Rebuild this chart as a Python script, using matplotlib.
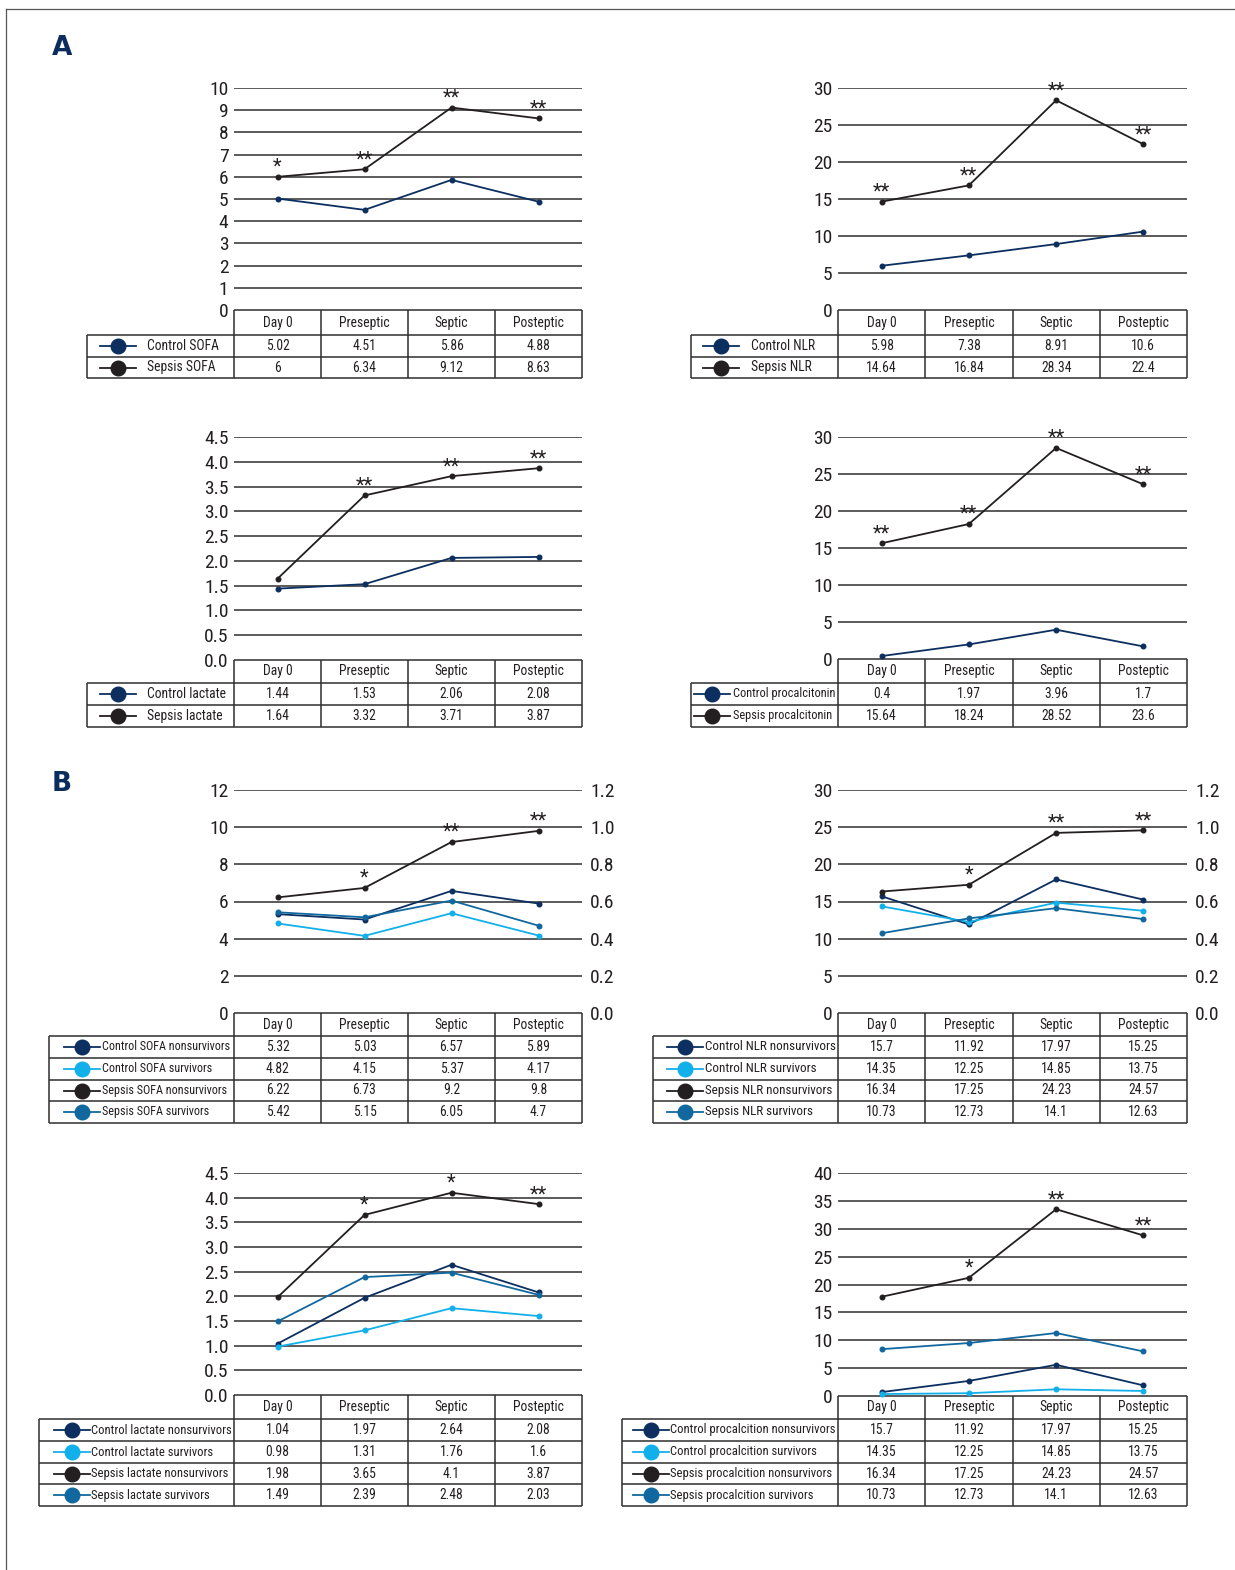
import matplotlib
matplotlib.use("Agg")
import matplotlib.pyplot as plt
from matplotlib import font_manager

# ---------------------------------------------------------------- data
categories = ["Day 0", "Preseptic", "Septic", "Posteptic"]

# Panel A: control vs sepsis
sofa_control = [5.02, 4.51, 5.86, 4.88]
sofa_sepsis = [6, 6.34, 9.12, 8.63]
nlr_control = [5.98, 7.38, 8.91, 10.6]
nlr_sepsis = [14.64, 16.84, 28.34, 22.4]
lactate_control = [1.44, 1.53, 2.06, 2.08]
lactate_sepsis = [1.64, 3.32, 3.71, 3.87]
pct_control = [0.4, 1.97, 3.96, 1.7]
pct_sepsis = [15.64, 18.24, 28.52, 23.6]

# Panel B: survivors vs nonsurvivors
sofa_ctrl_non = [5.32, 5.03, 6.57, 5.89]
sofa_ctrl_surv = [4.82, 4.15, 5.37, 4.17]
sofa_seps_non = [6.22, 6.73, 9.2, 9.8]
sofa_seps_surv = [5.42, 5.15, 6.05, 4.7]

nlr_ctrl_non = [15.7, 11.92, 17.97, 15.25]
nlr_ctrl_surv = [14.35, 12.25, 14.85, 13.75]
nlr_seps_non = [16.34, 17.25, 24.23, 24.57]
nlr_seps_surv = [10.73, 12.73, 14.1, 12.63]

lac_ctrl_non = [1.04, 1.97, 2.64, 2.08]
lac_ctrl_surv = [0.98, 1.31, 1.76, 1.6]
lac_seps_non = [1.98, 3.65, 4.1, 3.87]
lac_seps_surv = [1.49, 2.39, 2.48, 2.03]

# procalcitonin curves (the printed table under this chart repeats the NLR figures)
pct_ctrl_non = [0.7, 2.7, 5.6, 1.9]
pct_ctrl_surv = [0.35, 0.5, 1.2, 0.9]
pct_seps_non = [17.8, 21.2, 33.5, 28.8]
pct_seps_surv = [8.4, 9.5, 11.3, 8.0]
pct_table_ctrl_non = [15.7, 11.92, 17.97, 15.25]
pct_table_ctrl_surv = [14.35, 12.25, 14.85, 13.75]
pct_table_seps_non = [16.34, 17.25, 24.23, 24.57]
pct_table_seps_surv = [10.73, 12.73, 14.1, 12.63]

# significance marks above the sepsis (nonsurvivor) curve
stars_sofa_a = ["*", "**", "**", "**"]
stars_nlr_a = ["**", "**", "**", "**"]
stars_lac_a = ["", "**", "**", "**"]
stars_pct_a = ["**", "**", "**", "**"]
stars_sofa_b = ["", "*", "**", "**"]
stars_nlr_b = ["", "*", "**", "**"]
stars_lac_b = ["", "*", "*", "**"]
stars_pct_b = ["", "*", "**", "**"]

# ---------------------------------------------------------------- style
names = {f.name for f in font_manager.fontManager.ttflist}
FONT = "DejaVu Sans"
for cand in ["Liberation Sans Narrow", "Roboto Condensed", "DejaVu Sans Condensed",
             "Open Sans Condensed", "Roboto", "Liberation Sans"]:
    if cand in names:
        FONT = cand
        break
plt.rcParams["font.family"] = [FONT, "DejaVu Sans"]

NAVY = "#0c2f60"
LIGHT = "#12b0ea"
DARK = "#231f20"
MID = "#11689f"
INK = "#231f20"
RULE = "#2e2e2e"
TABLE_FS = 9.8
TICK_FS = 14

W, H = 1235, 1570
fig = plt.figure(figsize=(W / 100, H / 100), dpi=100)
canvas = fig.add_axes([0, 0, 1, 1])
canvas.set_xlim(0, W)
canvas.set_ylim(H, 0)
canvas.axis("off")
renderer = fig.canvas.get_renderer()

# outer frame (top and left edges)
canvas.plot([6, W], [9, 9], color="#555555", lw=0.9)
canvas.plot([6, 6], [9, H], color="#555555", lw=0.9)
canvas.text(62, 48, "A", color="#0b2d5e", fontsize=19, fontweight="bold",
            ha="center", va="center", family=["DejaVu Sans"])
canvas.text(62, 784, "B", color="#0b2d5e", fontsize=19, fontweight="bold",
            ha="center", va="center", family=["DejaVu Sans"])


def fit_labels(texts, max_px):
    """Shrink a group of labels together until the widest fits in max_px."""
    widest = max(t.get_window_extent(renderer).width for t in texts)
    if widest > max_px:
        size = TABLE_FS * max_px / widest
        for t in texts:
            t.set_fontsize(size)


def panel(lab_left, x0, x1, y_top, y_zero, ymax, ystep, yfmt, header_bottom,
          row_bottoms, series, colors, labels, table_rows, stars, mark_dx, text_dx,
          right_axis=False):
    ax = fig.add_axes([x0 / W, 1 - y_zero / H, (x1 - x0) / W, (y_zero - y_top) / H])
    ax.patch.set_alpha(0)
    ax.set_xlim(0, 4)
    ax.set_ylim(0, ymax)
    n = int(round(ymax / ystep))
    ticks = [i * ystep for i in range(n + 1)]
    for t in ticks[1:]:
        ax.axhline(t, color=RULE, lw=1.1, zorder=1)
    ax.set_yticks(ticks)
    ax.set_yticklabels([yfmt.format(t) for t in ticks])
    ax.set_xticks([])
    ax.tick_params(axis="y", length=0, pad=4, labelsize=TICK_FS, labelcolor=INK)
    for s in ax.spines.values():
        s.set_visible(False)
    xs = [i + 0.5 for i in range(len(categories))]
    for vals, c in zip(series, colors):
        ax.plot(xs, vals, color=c, lw=1.3, marker="o", ms=3.3, zorder=3, clip_on=False)
    top = series[colors.index(DARK)]
    for x, v, s in zip(xs, top, stars):
        if s:
            ax.annotate(s, (x, v), xytext=(0, 0), textcoords="offset points",
                        ha="center", va="bottom", fontsize=14.5, color=INK)
    if right_axis:
        rx = ax.twinx()
        rx.set_ylim(0, 1.2)
        rt = [i * 0.2 for i in range(7)]
        rx.set_yticks(rt)
        rx.set_yticklabels(["{:.1f}".format(t) for t in rt])
        rx.tick_params(axis="y", length=0, pad=6, labelsize=TICK_FS, labelcolor=INK)
        rx.set_xticks([])
        for s in rx.spines.values():
            s.set_visible(False)

    # data table under the chart
    col_w = (x1 - x0) / 4
    edges = [x0 + i * col_w for i in range(5)]
    bottom = row_bottoms[-1]
    kw = dict(color=RULE, lw=1.1, solid_capstyle="butt")
    canvas.plot([x0, x1], [y_zero, y_zero], **kw)
    for e in edges:
        canvas.plot([e, e], [y_zero, bottom], **kw)
    canvas.plot([lab_left, lab_left], [header_bottom, bottom], **kw)
    for yb in [header_bottom] + row_bottoms:
        canvas.plot([lab_left, x1], [yb, yb], **kw)
    for i, cat in enumerate(categories):
        canvas.text(edges[i] + col_w / 2, (y_zero + header_bottom) / 2, cat,
                    ha="center", va="center", fontsize=TABLE_FS, color=INK)
    tops = [header_bottom] + row_bottoms[:-1]
    label_texts = []
    for r, (lab, c, vals) in enumerate(zip(labels, colors, table_rows)):
        yc = (tops[r] + row_bottoms[r]) / 2
        mx = lab_left + mark_dx
        canvas.plot([mx - 18, mx + 18], [yc, yc], color=c, lw=1.3)
        canvas.plot([mx], [yc], marker="o", ms=10.5, color=c)
        label_texts.append(canvas.text(lab_left + text_dx, yc, lab, ha="left",
                                       va="center", fontsize=TABLE_FS, color=INK))
        for i, v in enumerate(vals):
            canvas.text(edges[i] + col_w / 2, yc, "{:g}".format(v), ha="center",
                        va="center", fontsize=TABLE_FS, color=INK)
    fit_labels(label_texts, x0 - 3 - (lab_left + text_dx))


# ------------------------------------------------ panel A
panel(87, 234, 582, 88, 310, 10, 1, "{:g}", 335, [357, 378],
      [sofa_control, sofa_sepsis], [NAVY, DARK],
      ["Control SOFA", "Sepsis SOFA"], [sofa_control, sofa_sepsis],
      stars_sofa_a, 31, 60)
panel(691, 838, 1187, 88, 310, 30, 5, "{:g}", 335, [357, 378],
      [nlr_control, nlr_sepsis], [NAVY, DARK],
      ["Control NLR", "Sepsis NLR"], [nlr_control, nlr_sepsis],
      stars_nlr_a, 30, 60)
panel(87, 234, 582, 437, 660, 4.5, 0.5, "{:.1f}", 683, [705, 727],
      [lactate_control, lactate_sepsis], [NAVY, DARK],
      ["Control lactate", "Sepsis lactate"], [lactate_control, lactate_sepsis],
      stars_lac_a, 31, 60)
panel(691, 838, 1187, 437, 659, 30, 5, "{:g}", 683, [705, 727],
      [pct_control, pct_sepsis], [NAVY, DARK],
      ["Control procalcitonin", "Sepsis procalcitonin"], [pct_control, pct_sepsis],
      stars_pct_a, 21, 42)

# ------------------------------------------------ panel B
b_colors = [NAVY, LIGHT, DARK, MID]
panel(49, 234, 582, 790, 1013, 12, 2, "{:g}", 1036, [1058, 1080, 1101, 1123],
      [sofa_ctrl_non, sofa_ctrl_surv, sofa_seps_non, sofa_seps_surv], b_colors,
      ["Control SOFA nonsurvivors", "Control SOFA survivors",
       "Sepsis SOFA nonsurvivors", "Sepsis SOFA survivors"],
      [sofa_ctrl_non, sofa_ctrl_surv, sofa_seps_non, sofa_seps_surv],
      stars_sofa_b, 33, 53, right_axis=True)
panel(653, 838, 1187, 790, 1013, 30, 5, "{:g}", 1036, [1058, 1080, 1101, 1123],
      [nlr_ctrl_non, nlr_ctrl_surv, nlr_seps_non, nlr_seps_surv], b_colors,
      ["Control NLR nonsurvivors", "Control NLR survivors",
       "Sepsis NLR nonsurvivors", "Sepsis NLR survivors"],
      [nlr_ctrl_non, nlr_ctrl_surv, nlr_seps_non, nlr_seps_surv],
      stars_nlr_b, 32, 52, right_axis=True)
panel(39, 234, 582, 1173, 1395, 4.5, 0.5, "{:.1f}", 1419, [1441, 1463, 1484, 1506],
      [lac_ctrl_non, lac_ctrl_surv, lac_seps_non, lac_seps_surv], b_colors,
      ["Control lactate nonsurvivors", "Control lactate survivors",
       "Sepsis lactate nonsurvivors", "Sepsis lactate survivors"],
      [lac_ctrl_non, lac_ctrl_surv, lac_seps_non, lac_seps_surv],
      stars_lac_b, 33, 52)
panel(622, 838, 1187, 1173, 1396, 40, 5, "{:g}", 1419, [1441, 1463, 1484, 1506],
      [pct_ctrl_non, pct_ctrl_surv, pct_seps_non, pct_seps_surv], b_colors,
      ["Control procalcition nonsurvivors", "Control procalcition survivors",
       "Sepsis procalcition nonsurvivors", "Sepsis procalcition survivors"],
      [pct_table_ctrl_non, pct_table_ctrl_surv, pct_table_seps_non, pct_table_seps_surv],
      stars_pct_b, 29, 48)

fig.savefig("out.png", dpi=100)
